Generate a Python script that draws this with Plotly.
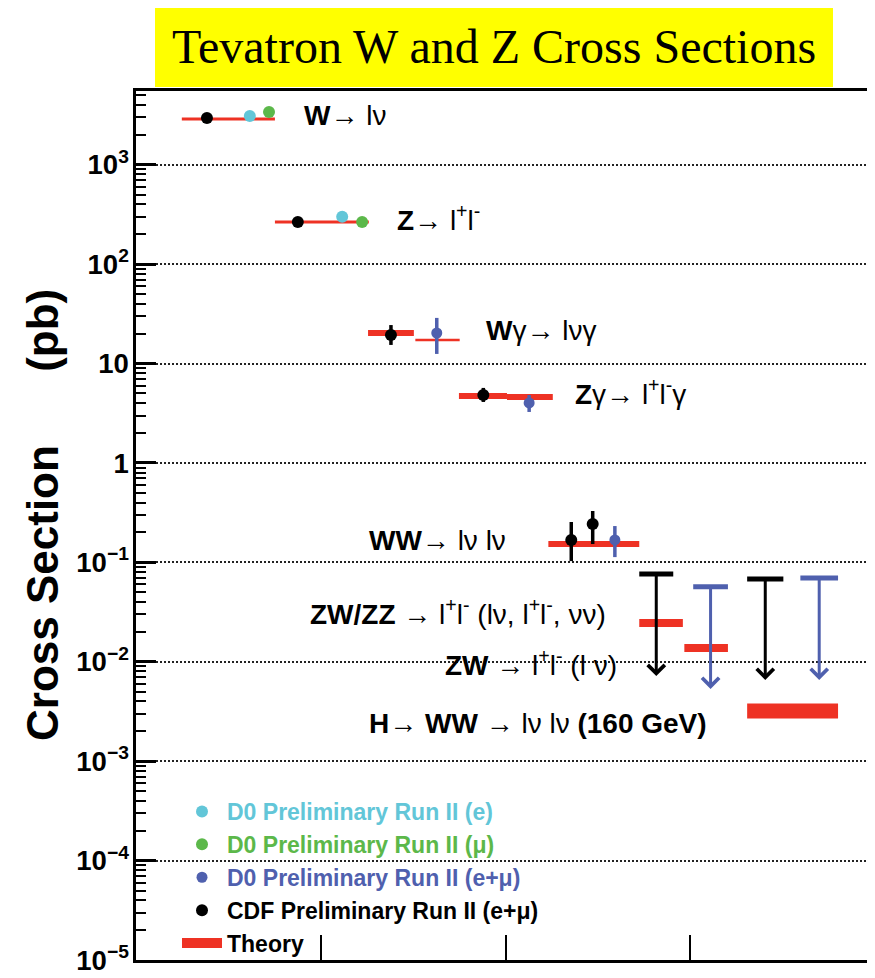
import numpy as np
import plotly.graph_objects as go

# ---------------- data (cross sections in pb, x = horizontal slot position) ----------------
# theory predictions: horizontal segments
theory_x0 = [0.62, 1.88, 3.14, 3.78, 4.37, 5.02, 5.58, 6.81, 7.42, 8.27]
theory_x1 = [1.88, 3.15, 3.76, 4.38, 5.02, 5.64, 6.81, 7.40, 8.01, 9.50]
theory_val = [2890, 266, 20.3, 17.3, 4.72, 4.61, 0.153, 0.0245, 0.0138, 0.0032]

# CDF Preliminary Run II (e+mu)
cdf_x = [0.96, 2.19, 3.45, 4.70, 5.89, 6.18]
cdf_val = [2958, 266, 19.4, 4.83, 0.168, 0.243]
cdf_hi = [2958, 266, 24.4, 5.69, 0.255, 0.329]
cdf_lo = [2958, 266, 15.4, 4.11, 0.103, 0.153]

# D0 Preliminary Run II (e)
d0e_x = [1.54, 2.79]
d0e_val = [3100, 300]

# D0 Preliminary Run II (mu)
d0mu_x = [1.80, 3.06]
d0mu_val = [3400, 266]

# D0 Preliminary Run II (e+mu)
d0emu_x = [4.07, 5.32, 6.48]
d0emu_val = [20.3, 4.02, 0.168]
d0emu_hi = [28.8, 4.83, 0.232]
d0emu_lo = [12.5, 3.26, 0.113]

# upper limits (bar value, arrow end value)
lim_cdf_x0 = [6.81, 8.27]
lim_cdf_x1 = [7.27, 8.76]
lim_cdf_val = [0.0763, 0.068]
lim_cdf_arrow = [0.00719, 0.00656]

lim_d0_x0 = [7.54, 8.99]
lim_d0_x1 = [8.01, 9.50]
lim_d0_val = [0.0567, 0.0697]
lim_d0_arrow = [0.00533, 0.00656]

process_labels = [
    "<b>W</b>\u2192 l\u03bd",
    "<b>Z</b>\u2192 l<sup>+</sup>l<sup>-</sup>",
    "<b>W</b>\u03b3\u2192 l\u03bd\u03b3",
    "<b>Z</b>\u03b3\u2192 l<sup>+</sup>l<sup>-</sup>\u03b3",
    "<b>WW</b>\u2192 l\u03bd l\u03bd",
    "<b>ZW/ZZ</b> \u2192 l<sup>+</sup>l<sup>-</sup> (l\u03bd, l<sup>+</sup>l<sup>-</sup>, \u03bd\u03bd)",
    "<b>ZW</b> \u2192 l<sup>+</sup>l<sup>-</sup> (l \u03bd)",
    "<b>H</b>\u2192 <b>WW</b> \u2192 l\u03bd l\u03bd <b>(160 GeV)</b>",
]

# ---------------- styles / layout ----------------
RED = "#ee3224"
CYAN = "#62c6d8"
GREEN = "#5cb84a"
BLUE = "#4f60ae"
theory_width = [3, 3, 6, 2.5, 6, 6, 6, 8, 8, 15]

# page geometry (the html body adds an 8px margin around the figure)
OFF = 8
PAGE_W, PAGE_H = 875, 978
FIG_W, FIG_H = PAGE_W - OFF, PAGE_H - OFF
PL, PT, PR, PB = 136, 91, 875, 960      # plot-area edges in page pixels
L, T = PL - OFF, PT - OFF
R, B = FIG_W - (PR - OFF), FIG_H - (PB - OFF)
PW, PH = PR - PL, PB - PT


def paper_x(px):
    return (px - PL) / PW


def paper_y(py):
    return (PB - py) / PH


label_px = [(302, 116), (395, 218), (484, 330), (573, 392),
            (367, 540), (308, 612), (443, 663), (367, 723)]

SANS = "Liberation Sans, Arial, Helvetica, sans-serif"

fig = go.Figure()

# theory segments
for i in range(len(theory_val)):
    fig.add_trace(go.Scatter(
        x=[theory_x0[i], theory_x1[i]], y=[theory_val[i], theory_val[i]],
        mode="lines", line=dict(color=RED, width=theory_width[i]),
        name="Theory", legendgroup="theory", legendrank=5,
        showlegend=(i == len(theory_val) - 1), hoverinfo="skip"))

# upper limit bars
for x0s, x1s, vals, col in [(lim_cdf_x0, lim_cdf_x1, lim_cdf_val, "black"),
                            (lim_d0_x0, lim_d0_x1, lim_d0_val, BLUE)]:
    for a, b, v in zip(x0s, x1s, vals):
        fig.add_trace(go.Scatter(x=[a, b], y=[v, v], mode="lines",
                                 line=dict(color=col, width=5), showlegend=False,
                                 hoverinfo="skip"))


def err(val, hi, lo):
    return dict(type="data", symmetric=False,
                array=[h - v for h, v in zip(hi, val)],
                arrayminus=[v - l for v, l in zip(val, lo)])


fig.add_trace(go.Scatter(
    x=d0e_x, y=d0e_val, mode="markers", marker=dict(color=CYAN, size=12),
    name="<span style='color:%s'>D0 Preliminary Run II (e)</span>" % CYAN,
    legendgroup="d0e", legendrank=1))
fig.add_trace(go.Scatter(
    x=d0mu_x, y=d0mu_val, mode="markers", marker=dict(color=GREEN, size=12),
    name="<span style='color:%s'>D0 Preliminary Run II (\u03bc)</span>" % GREEN,
    legendgroup="d0mu", legendrank=2))
fig.add_trace(go.Scatter(
    x=d0emu_x, y=d0emu_val, mode="markers", marker=dict(color=BLUE, size=11),
    error_y=dict(**err(d0emu_val, d0emu_hi, d0emu_lo), color=BLUE, thickness=3.5, width=0),
    name="<span style='color:%s'>D0 Preliminary Run II (e+\u03bc)</span>" % BLUE,
    legendgroup="d0emu", legendrank=3))
fig.add_trace(go.Scatter(
    x=cdf_x, y=cdf_val, mode="markers", marker=dict(color="black", size=12),
    error_y=dict(**err(cdf_val, cdf_hi, cdf_lo), color="black", thickness=3.5, width=0),
    name="CDF Preliminary Run II (e+\u03bc)", legendgroup="cdf", legendrank=4))

annotations = []
# arrows of the upper limits
for x0s, x1s, vals, ends, col in [(lim_cdf_x0, lim_cdf_x1, lim_cdf_val, lim_cdf_arrow, "black"),
                                  (lim_d0_x0, lim_d0_x1, lim_d0_val, lim_d0_arrow, BLUE)]:
    for a, b, v, e in zip(x0s, x1s, vals, ends):
        xc = (a + b) / 2
        annotations.append(dict(
            x=xc, y=np.log10(e), ax=xc, ay=np.log10(v), xref="x", yref="y",
            axref="x", ayref="y", text="", showarrow=True, arrowhead=4,
            arrowsize=1.1, arrowwidth=3, arrowcolor=col, standoff=0, startstandoff=0))

for txt, (px, py) in zip(process_labels, label_px):
    annotations.append(dict(
        x=paper_x(px), y=paper_y(py), xref="paper", yref="paper", text=txt,
        showarrow=False, xanchor="left", yanchor="middle",
        font=dict(family=SANS, size=28, color="black")))

# y axis title
annotations.append(dict(
    x=paper_x(42), y=paper_y(515), xref="paper", yref="paper",
    text="<b>Cross Section" + "\u00a0" * 6 + "(pb)</b>", textangle=-90,
    showarrow=False, xanchor="center", yanchor="middle",
    font=dict(family=SANS, size=44, color="black")))

# chart title
annotations.append(dict(
    x=paper_x(494), y=paper_y(46), xref="paper", yref="paper",
    text="Tevatron W and Z Cross Sections", showarrow=False,
    xanchor="center", yanchor="middle",
    font=dict(family="Liberation Serif, Times New Roman, serif", size=48, color="black")))

shapes = [
    dict(type="rect", xref="paper", yref="paper", x0=paper_x(155), x1=paper_x(833),
         y0=paper_y(87), y1=paper_y(4), fillcolor="#ffff00", line=dict(width=0), layer="below"),
    dict(type="rect", xref="paper", yref="paper", x0=paper_x(870), x1=paper_x(876),
         y0=paper_y(87), y1=paper_y(0), fillcolor="#edf2fa", line=dict(width=0), layer="below"),
]

fig.update_layout(
    width=FIG_W, height=FIG_H,
    margin=dict(l=L, r=R, t=T, b=B, autoexpand=False),
    paper_bgcolor="white", plot_bgcolor="white",
    font=dict(family=SANS, color="black"),
    showlegend=True,
    legend=dict(x=paper_x(177), y=paper_y(790), xanchor="left", yanchor="top",
                bgcolor="rgba(0,0,0,0)", itemwidth=40, tracegroupgap=0,
                font=dict(family=SANS, size=23, color="black", weight="bold")),
    annotations=annotations, shapes=shapes,
    xaxis=dict(range=[0, 10], tickvals=[2.5, 5, 7.5], ticks="inside", ticklen=25,
               tickwidth=2, tickcolor="black", showticklabels=False, showline=True,
               linewidth=3, linecolor="black", mirror=True, showgrid=False, zeroline=False),
    yaxis=dict(type="log", range=[-5, 3.742], dtick=1, exponentformat="power",
               ticks="inside", ticklen=20, tickwidth=2.5, tickcolor="black",
               showline=True, linewidth=2.5, linecolor="black",
               showgrid=True, gridcolor="#222222", griddash="2px,2px", gridwidth=1.5,
               zeroline=False,
               minor=dict(ticks="inside", ticklen=10, tickwidth=2, tickcolor="black",
                          dtick="D1", showgrid=False),
               tickfont=dict(family=SANS, size=22, color="black", weight="bold")),
)

fig.write_html("out.html")
